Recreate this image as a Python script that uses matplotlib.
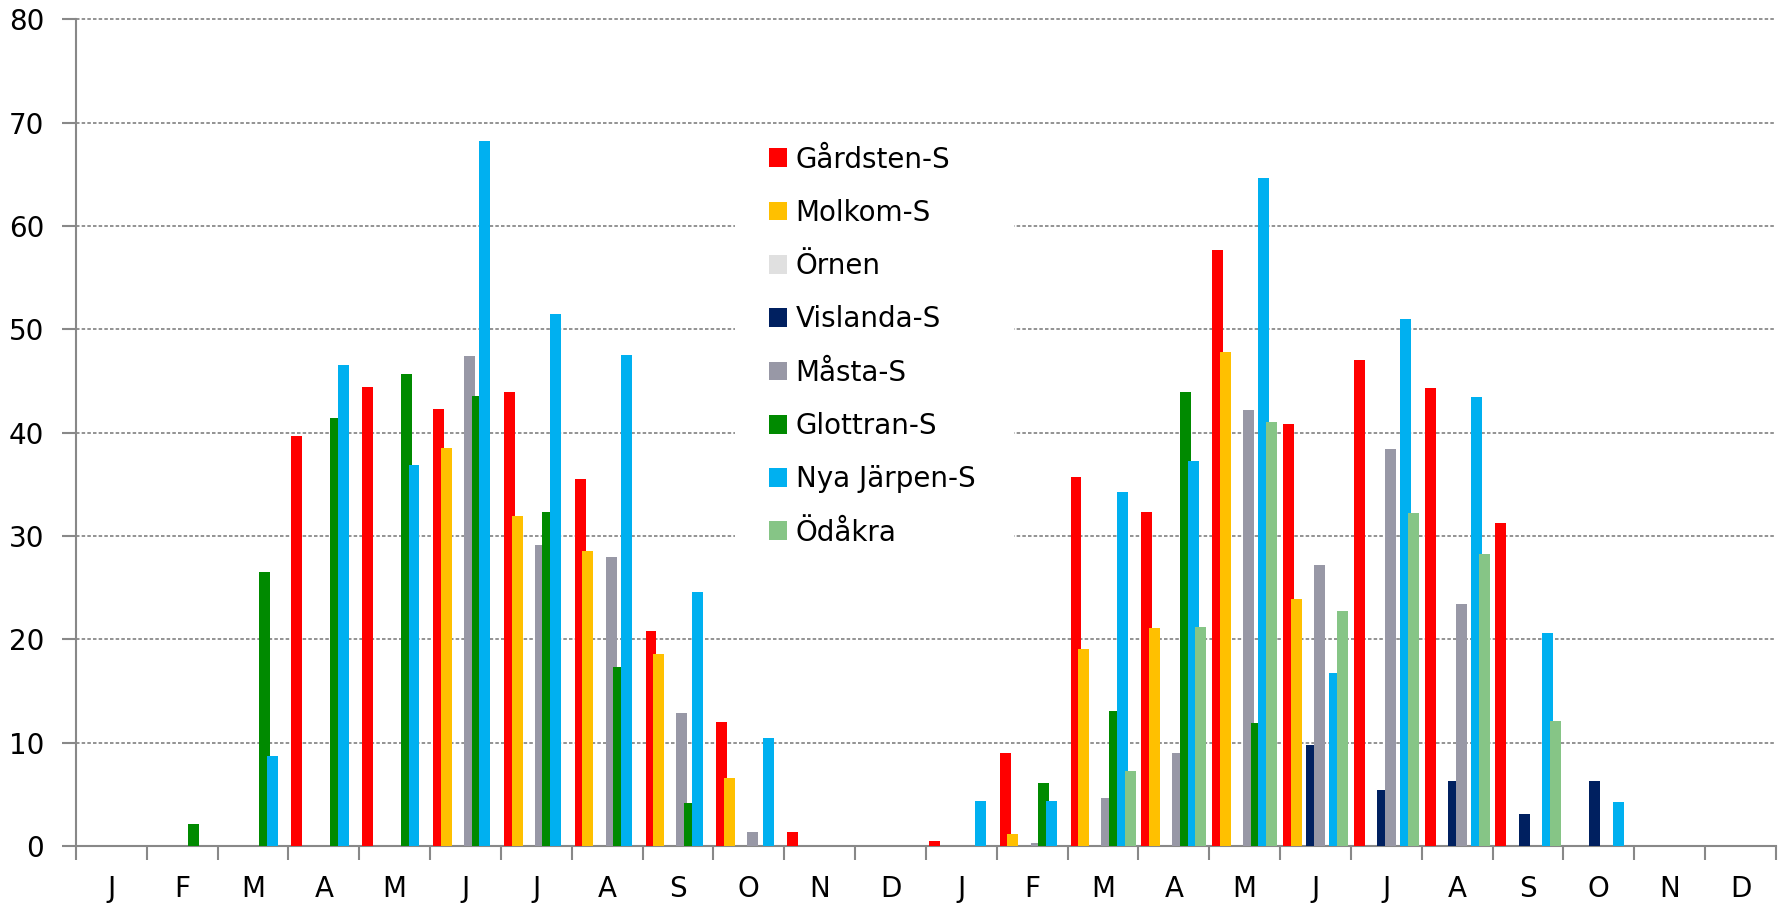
import numpy as np
import matplotlib.pyplot as plt
from matplotlib.patches import Rectangle

plt.rcParams["font.family"] = "DejaVu Sans"
plt.rcParams["font.size"] = 20

months = ["J", "F", "M", "A", "M", "J", "J", "A", "S", "O", "N", "D"] * 2

series = ["Gårdsten-S", "Molkom-S", "Örnen", "Vislanda-S",
          "Måsta-S", "Glottran-S", "Nya Järpen-S", "Ödåkra"]
colours = ["#FF0000", "#FFC000", "#E0E0E0", "#002060",
           "#9898A6", "#008A00", "#00B0F0", "#86C586"]

gardsten = [0, 0, 0, 39.7, 44.4, 42.3, 43.9, 35.5, 20.8, 12.0, 1.4, 0,
            0.45, 9.0, 35.7, 32.3, 57.7, 40.8, 47.0, 44.3, 31.3, 0, 0, 0]
molkom = [0, 0, 0, 0, 0, 38.5, 31.9, 28.6, 18.6, 6.6, 0, 0,
          0, 1.2, 19.1, 21.1, 47.8, 23.9, 0, 0, 0, 0, 0, 0]
ornen = [0] * 24
vislanda = [0, 0, 0, 0, 0, 0, 0, 0, 0, 0, 0, 0,
            0, 0, 0, 0, 0, 9.8, 5.4, 6.3, 3.1, 6.3, 0, 0]
masta = [0, 0, 0, 0, 0, 47.4, 29.1, 28.0, 12.9, 1.4, 0, 0,
         0, 0.3, 4.6, 9.0, 42.2, 27.2, 38.4, 23.4, 0, 0, 0, 0]
glottran = [0, 2.1, 26.5, 41.4, 45.7, 43.6, 32.3, 17.3, 4.2, 0, 0, 0,
            0, 6.1, 13.1, 43.9, 11.9, 0, 0, 0, 0, 0, 0, 0]
nya_jarpen = [0, 0, 8.7, 46.6, 36.9, 68.2, 51.5, 47.5, 24.6, 10.5, 0, 0,
              4.4, 4.4, 34.3, 37.3, 64.7, 16.7, 51.0, 43.5, 20.6, 4.3, 0, 0]
odakra = [0, 0, 0, 0, 0, 0, 0, 0, 0, 0, 0, 0,
          0, 0, 7.3, 21.2, 41.0, 22.7, 32.2, 28.3, 12.1, 0, 0, 0]

values = [gardsten, molkom, ornen, vislanda, masta, glottran, nya_jarpen, odakra]

fig = plt.figure(figsize=(17.87, 9.06), dpi=100)
ax = fig.add_axes([0.0425, 0.0662, 0.9513, 0.9123])
ax.set_axisbelow(True)

x = np.arange(len(months)) + 0.5
step = 0.109   # bars overlap a bit, like the excel original
w = 0.155
for k, (name, vals, c) in enumerate(zip(series, values, colours)):
    ax.bar(x + (k - 3.5) * step, vals, width=w, color=c, label=name,
           linewidth=0, zorder=3)

ax.set_xlim(0, 24)
ax.set_ylim(0, 80)
ax.set_yticks(range(0, 81, 10))
ax.set_xticks(range(0, 25))
ax.set_xticklabels([])
ax.set_xticks(x, minor=True)
ax.set_xticklabels(months, minor=True)
ax.tick_params(axis="x", which="minor", length=0, pad=21)
ax.tick_params(axis="x", which="major", length=10, width=1.5, color="#888888")
ax.tick_params(axis="y", length=10, width=1.5, color="#888888", pad=13)

ax.grid(axis="y", linestyle=(0, (2.1, 1.3)), color="#808080", linewidth=1.2)
for gl in ax.get_ygridlines():
    gl.set_clip_on(False)
for s in ["top", "right"]:
    ax.spines[s].set_visible(False)
for s in ["left", "bottom"]:
    ax.spines[s].set_color("#888888")
    ax.spines[s].set_linewidth(1.5)

# white area behind the legend hides the grid there
ax.add_patch(Rectangle((9.3, 27), 3.94, 41.3, facecolor="white",
                       edgecolor="none", zorder=1))

leg = ax.legend(loc="upper left", bbox_to_anchor=(0.4303, 0.8393),
                bbox_transform=fig.transFigure, frameon=False,
                handlelength=0.66, handleheight=0.66, handletextpad=0.3,
                labelspacing=0.91, borderpad=0, borderaxespad=0, fontsize=20)

fig.savefig("out.png", dpi=100)
